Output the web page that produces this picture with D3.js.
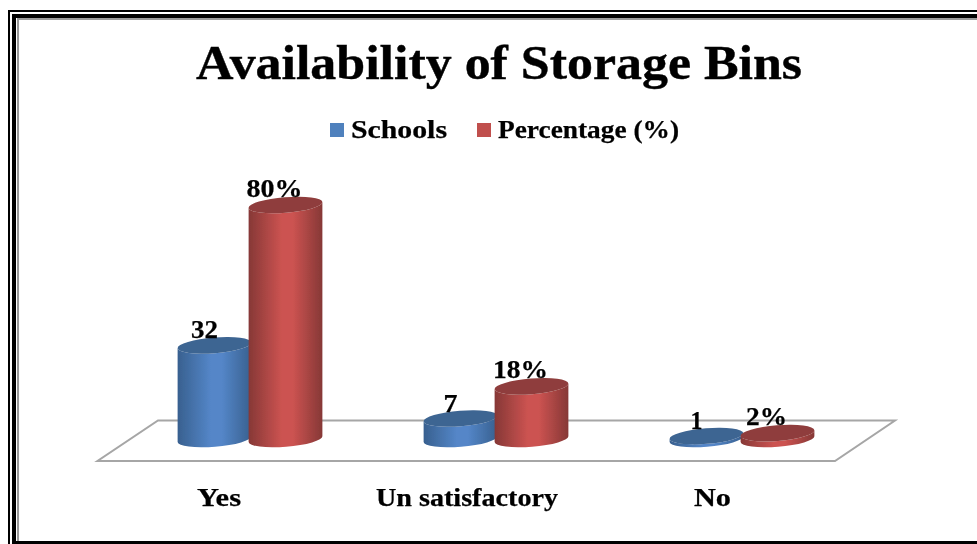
<!DOCTYPE html>
<html><head><meta charset="utf-8">
<script src="https://cdnjs.cloudflare.com/ajax/libs/d3/7.8.5/d3.min.js"></script>
<style>html,body{margin:0;padding:0;background:#fff;overflow:hidden}svg{display:block}
text{font-family:"Liberation Serif",serif;font-weight:bold;fill:#000;stroke:#000;stroke-width:.25px}</style></head>
<body><svg id="c" width="977" height="544"></svg>
<script>
const categories = ["Yes", "Un satisfactory", "No"];
const seriesNames = ["Schools", "Percentage (%)"];
const schools = [32, 7, 1];
const percentage = [80, 18, 2];
const schoolLabels = ["32", "7", "1"];
const percentLabels = ["80%", "18%", "2%"];
const titleText = "Availability of Storage Bins";

const svg = d3.select("#c");
const defs = svg.append("defs");
function grad(id, edge, mid){
  const g = defs.append("linearGradient").attr("id", id);
  [[0,edge],[0.45,mid],[0.6,mid],[1,edge]].forEach(s=>g.append("stop").attr("offset",s[0]).attr("stop-color",s[1]));
}
grad("gBlue", "#38608f", "#5486c8");
grad("gRed", "#863836", "#cc5351");
defs.append("filter").attr("id","soft").append("feGaussianBlur").attr("stdDeviation",0.5);

// frame
const frame = svg.append("g");
frame.append("path").attr("d","M9,544V11H977").attr("fill","none").attr("stroke","#000").attr("stroke-width",2);
frame.append("path").attr("d","M14,544V16H977").attr("fill","none").attr("stroke","#000").attr("stroke-width",4);
frame.append("path").attr("d","M18,541V19H977").attr("fill","none").attr("stroke","#999").attr("stroke-width",2);
frame.append("rect").attr("x",12).attr("y",541).attr("width",965).attr("height",3).attr("fill","#000");

const root = svg.append("g").attr("filter","url(#soft)");

root.append("text").attr("x",196).attr("y",79)
  .attr("font-size",49).attr("textLength",606).attr("lengthAdjust","spacingAndGlyphs")
  .style("stroke-width","0.4px").text(titleText);

// floor
root.append("path").attr("d","M97.5,461H835L895,420.5H158Z").attr("fill","#fff").attr("stroke","#a6a6a6").attr("stroke-width",2);

// scales
const x = d3.scaleBand().domain(categories).range([127, 865]).paddingInner(0);
const cat = d => x(d) + x.bandwidth()/2;
const y = d3.scaleLinear().domain([0, 80]).range([439, 205]);
const rx = 37, ry = 7.8, tilt = -4.5;

const series = [
  {vals: schools, labels: schoolLabels, dx: -34.5, fill:"url(#gBlue)", top:"#3e6592", labelDx:-10, labelDy:-7, w:[27,14,12]},
  {vals: percentage, labels: percentLabels, dx: 36.5, fill:"url(#gRed)", top:"#8f3e3c", labelDx:-11, labelDy:-8, w:[56,55,41]}
];
series.forEach(s=>{
  categories.forEach((c,i)=>{
    const cx = cat(c)+ s.dx - 1, yt = y(s.vals[i]), yb = y(0);
    const g = root.append("g");
    const rad = tilt*Math.PI/180, ax = rx*Math.cos(rad), ay = rx*Math.sin(rad);
    g.append("path").attr("d",
      `M${cx-ax},${yt-ay}L${cx-ax},${yb-ay}A${rx},${ry} ${tilt} 0 0 ${cx+ax},${yb+ay}L${cx+ax},${yt+ay}A${rx},${ry} ${tilt} 0 1 ${cx-ax},${yt-ay}Z`)
      .attr("fill", s.fill);
    g.append("ellipse").attr("cx",cx).attr("cy",yt).attr("rx",rx).attr("ry",ry)
      .attr("transform",`rotate(${tilt} ${cx} ${yt})`).attr("fill",s.top);
    root.append("text").attr("x",cx+s.labelDx-s.w[i]/2).attr("y",yt+s.labelDy)
      .attr("font-size",26).attr("textLength",s.w[i]).attr("lengthAdjust","spacingAndGlyphs").text(s.labels[i]);
  });
});

// category labels
const catLeft = [197, 376, 694], catWidth = [44, 182, 37];
categories.forEach((c,i)=>{
  root.append("text").attr("x",catLeft[i]).attr("y",506)
    .attr("font-size",25).attr("textLength",catWidth[i]).attr("lengthAdjust","spacingAndGlyphs").text(c);
});

// legend
const legendX = [330, 477], legendTextW = [96, 181], legendFill = ["#4f81bd","#c0504d"];
seriesNames.forEach((n,i)=>{
  root.append("rect").attr("x",legendX[i]).attr("y",123).attr("width",14).attr("height",14).attr("fill",legendFill[i]);
  root.append("text").attr("x",legendX[i]+21).attr("y",138).attr("font-size",25)
    .attr("textLength",legendTextW[i]).attr("lengthAdjust","spacingAndGlyphs").text(n);
});
</script></body></html>
